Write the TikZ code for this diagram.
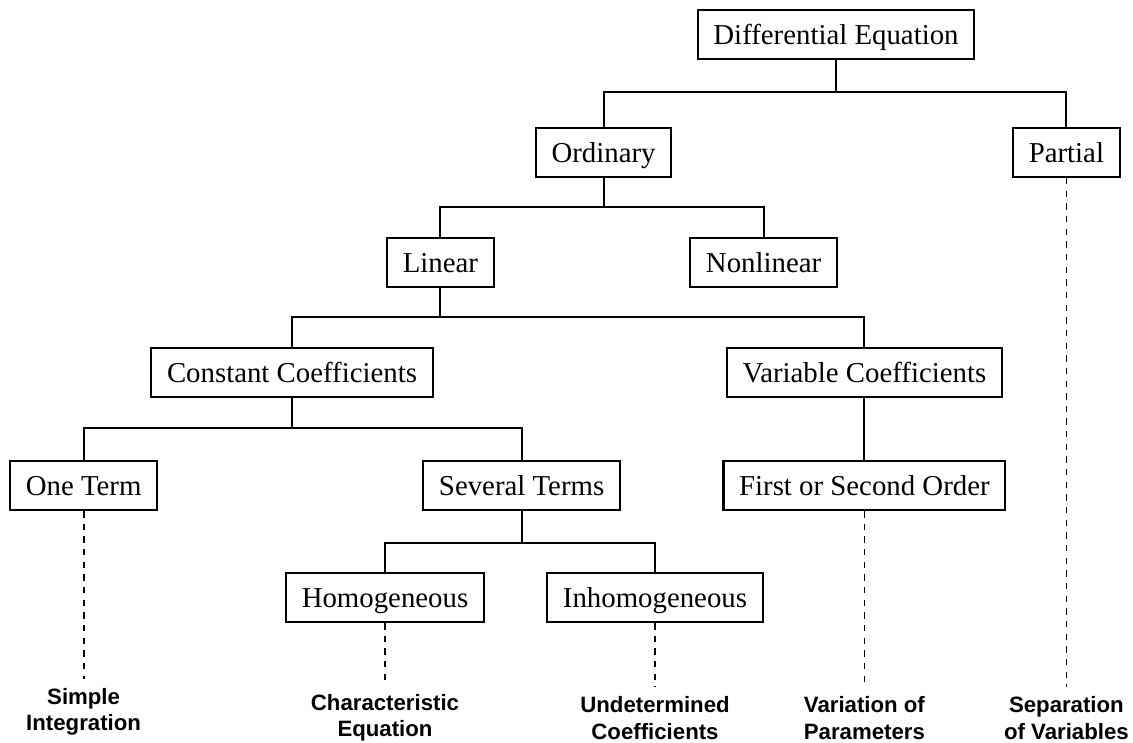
\documentclass[tikz,border=0pt]{standalone}
\usepackage{fontspec}
\setmainfont{Liberation Serif}
\newfontfamily\labelfont{Liberation Sans}

\begin{document}
\begin{tikzpicture}[
        box/.style={draw,line width=1.5pt,fill=white,inner xsep=0.39cm,inner ysep=0.374cm,text height=0.478cm,text depth=0pt,font=\fontsize{20.5}{24}\selectfont},
        method/.style={align=center,font=\labelfont\bfseries\fontsize{15.8}{18.8}\selectfont},
        link/.style={line width=1.5pt},
        hint/.style={line width=1.3pt,dash pattern=on 4.5pt off 4.5pt,shorten >=3pt}]
        \useasboundingbox(0,0)rectangle(28.325,-18.55);

        \node[box](de)at(20.9,-0.8625){Differential Equation};
        \node[box](ord)at(15.09,-3.8125){Ordinary};
        \node[box](par)at(26.66,-3.8125){Partial};
        \node[box](lin)at(11.01,-6.5625){Linear};
        \node[box](nonlin)at(19.09,-6.5625){Nonlinear};
        \node[box](const)at(7.3,-9.3125){Constant Coefficients};
        \node[box](var)at(21.61,-9.3125){Variable Coefficients};
        \node[box](one)at(2.09,-12.14){One Term};
        \node[box](sev)at(13.04,-12.14){Several Terms};
        \node[box](fso)at(21.61,-12.14){First or Second Order};
        \node[box](hom)at(9.625,-14.94){Homogeneous};
        \node[box](inh)at(16.375,-14.94){Inhomogeneous};

        \node[method](simple)at(2.09,-17.8){Simple\\Integration};
        \node[method](chareq)at(9.625,-17.95){Characteristic\\Equation};
        \node[method](undet)at(16.375,-17.95){Undetermined\\Coefficients};
        \node[method](varpar)at(21.61,-17.95){Variation of\\Parameters};
        \node[method](sepvar)at(26.66,-17.95){Separation\\of Variables};

        \coordinate(j1)at(20.9,-2.3);
        \coordinate(j2)at(15.09,-5.175);
        \coordinate(j3)at(11.01,-7.925);
        \coordinate(j4)at(7.3,-10.7);
        \coordinate(j5)at(13.04,-13.575);

        \draw[link](de)--(j1);
        \draw[link](ord.north)|-(j1)-|(par.north);
        \draw[link](ord)--(j2);
        \draw[link](lin.north)|-(j2)-|(nonlin.north);
        \draw[link](lin)--(j3);
        \draw[link](const.north)|-(j3)-|(var.north);
        \draw[link](const)--(j4);
        \draw[link](one.north)|-(j4)-|(sev.north);
        \draw[link](var)--(fso);
        \draw[link](sev)--(j5);
        \draw[link](hom.north)|-(j5)-|(inh.north);

        \draw[hint](one)--(simple);
        \draw[hint](hom)--(chareq);
        \draw[hint](inh)--(undet);
        \draw[hint](fso)--(varpar);
        \draw[hint](par)--(sepvar);
    \end{tikzpicture}
\end{document}
